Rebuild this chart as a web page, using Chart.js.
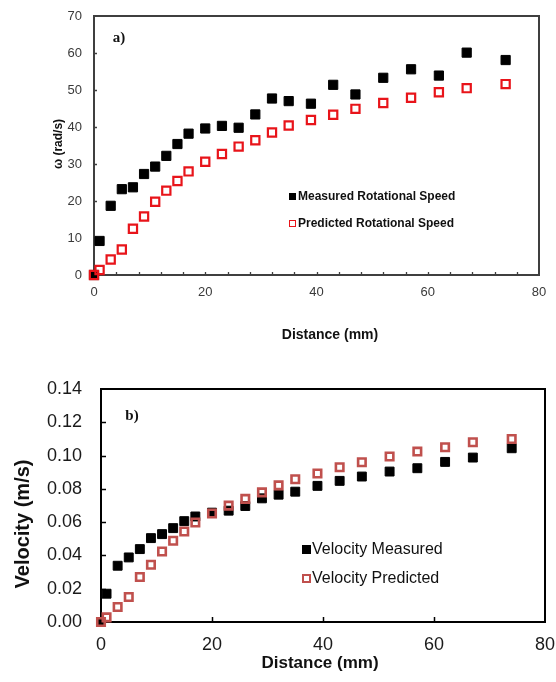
<!DOCTYPE html>
<html>
<head>
<meta charset="utf-8">
<script src="https://cdn.jsdelivr.net/npm/chart.js@4.4.1/dist/chart.umd.min.js"></script>
<style>
  body { margin: 0; background: #fff; }
  #wrap { position: relative; width: 556px; height: 682px; }
  canvas { position: absolute; left: 0; }
  #chartA { top: 0; }
  #chartB { top: 350px; }
  .legend { position: absolute; }
  .legend div { position: absolute; white-space: nowrap; display: flex; align-items: center; }
  .legend span.box { display: inline-block; box-sizing: border-box; }
</style>
</head>
<body>
<div id="wrap">
  <canvas id="chartA" width="556" height="350"></canvas>
  <canvas id="chartB" width="556" height="332"></canvas>
  <div class="legend" id="legendA"></div>
  <div class="legend" id="legendB"></div>
</div>
<script>
// datos
const distance = [0, 1, 3, 5, 7, 9, 11, 13, 15, 17, 20, 23, 26, 29, 32, 35, 39, 43, 47, 52, 57, 62, 67, 74];
const omegaMeasured = [0, 9.2, 18.7, 23.2, 23.7, 27.3, 29.3, 32.2, 35.4, 38.2, 39.6, 40.3, 39.8, 43.4, 47.7, 47.0, 46.3, 51.4, 48.8, 53.3, 55.6, 53.9, 60.1, 58.1];
const omegaPredicted = [0, 1.35, 4.2, 6.9, 12.5, 15.8, 19.8, 22.8, 25.4, 28.0, 30.6, 32.7, 34.7, 36.4, 38.5, 40.4, 41.9, 43.3, 44.9, 46.5, 47.9, 49.4, 50.5, 51.6];
const velMeasured = [0, 0.017, 0.0338, 0.0388, 0.0438, 0.0504, 0.0528, 0.0564, 0.0606, 0.0634, 0.0657, 0.0669, 0.0697, 0.0743, 0.0765, 0.0783, 0.0818, 0.0848, 0.0874, 0.0904, 0.0924, 0.0962, 0.0988, 0.1044];
const velPredicted = [0, 0.0028, 0.009, 0.015, 0.027, 0.0344, 0.0424, 0.0488, 0.0544, 0.0598, 0.0652, 0.0699, 0.0740, 0.0779, 0.0821, 0.0858, 0.0892, 0.093, 0.096, 0.0994, 0.1024, 0.105, 0.108, 0.110];

const xTicksA = [0, 20, 40, 60, 80];
const yTicksA = [0, 10, 20, 30, 40, 50, 60, 70];
const yTicksB = [0, 0.02, 0.04, 0.06, 0.08, 0.10, 0.12, 0.14];

const toPoints = ys => distance.map((d, i) => ({ x: d, y: ys[i] }));

// marco y marcas hacia dentro
const frameTicks = {
  id: 'frameTicks',
  beforeDatasetsDraw(chart, args, o) {
    const { ctx, chartArea: a, scales: { x, y } } = chart;
    ctx.save();
    ctx.strokeStyle = o.color;
    ctx.lineWidth = o.width;
    ctx.strokeRect(a.left, a.top, a.width, a.height);
    ctx.lineWidth = o.tickWidth;
    ctx.beginPath();
    for (let v = x.min + o.xStep; v < x.max; v += o.xStep) {
      const px = Math.round(x.getPixelForValue(v)) + 0.5;
      ctx.moveTo(px, a.bottom);
      ctx.lineTo(px, a.bottom - o.len);
    }
    for (let v = y.min + o.yStep; v < y.max - 1e-9; v += o.yStep) {
      const py = Math.round(y.getPixelForValue(v)) + 0.5;
      ctx.moveTo(a.left, py);
      ctx.lineTo(a.left + o.len, py);
    }
    ctx.stroke();
    ctx.restore();
  },
  afterDraw(chart, args, o) {
    const { ctx } = chart;
    ctx.save();
    ctx.fillStyle = o.textColor;
    ctx.textAlign = 'center';
    ctx.textBaseline = 'middle';
    (o.labels || []).forEach(l => {
      ctx.save();
      ctx.translate(l.x, l.y);
      if (l.rot) ctx.rotate(l.rot);
      ctx.font = l.font;
      ctx.fillText(l.text, 0, 0);
      ctx.restore();
    });
    ctx.restore();
  }
};

function makeChart(id, cfg) {
  return new Chart(document.getElementById(id), {
    type: 'scatter',
    data: { datasets: cfg.datasets },
    options: {
      responsive: false,
      animation: false,
      layout: { padding: { top: cfg.area.top, right: cfg.area.right, left: 0, bottom: 0 } },
      plugins: {
        legend: { display: false },
        tooltip: { enabled: false },
        frameTicks: cfg.frame
      },
      scales: {
        x: {
          type: 'linear', min: 0, max: 80,
          afterBuildTicks: s => { s.ticks = xTicksA.map(v => ({ value: v })); },
          afterFit: s => { s.height = cfg.area.xh; s.paddingLeft = 0; s.paddingRight = 0; },
          grid: { display: false, drawTicks: false },
          border: { display: false },
          ticks: { padding: cfg.xPad, color: cfg.tickColor, font: { family: 'Liberation Sans, Arial', size: cfg.tickSize }, maxRotation: 0 }
        },
        y: {
          type: 'linear', min: cfg.yTicks[0], max: cfg.yTicks[cfg.yTicks.length - 1],
          afterBuildTicks: s => { s.ticks = cfg.yTicks.map(v => ({ value: v })); },
          afterFit: s => { s.width = cfg.area.left; s.paddingTop = 0; s.paddingBottom = 0; },
          grid: { display: false, drawTicks: false },
          border: { display: false },
          ticks: { padding: cfg.yPad, color: cfg.tickColor, font: { family: 'Liberation Sans, Arial', size: cfg.tickSize }, callback: cfg.yFmt }
        }
      }
    },
    plugins: [frameTicks]
  });
}

const chartA = makeChart('chartA', {
  area: { top: 16, right: 17, left: 94, xh: 350 - 275 },
  tickSize: 13, tickColor: '#3a3a3a', xPad: 10, yPad: 12,
  yTicks: yTicksA,
  yFmt: v => v,
  datasets: [
    { label: 'Measured Rotational Speed', data: toPoints(omegaMeasured), pointStyle: 'rect', pointRadius: 6.5,
      backgroundColor: '#000', borderColor: '#000', borderWidth: 1, order: 1, clip: false },
    { label: 'Predicted Rotational Speed', data: toPoints(omegaPredicted), pointStyle: 'rect', pointRadius: 5.8,
      backgroundColor: 'rgba(0,0,0,0)', borderColor: '#e8141a', borderWidth: 2.2, order: 0, clip: false }
  ],
  frame: {
    color: '#3f3f3f', width: 2, tickWidth: 1.3, len: 3, xStep: 4, yStep: 10, textColor: '#111',
    labels: [
      { text: 'a)', x: 119, y: 38, font: 'bold 15px "Liberation Serif", "Times New Roman"' },
      { text: 'Distance (mm)', x: 330, y: 335, font: 'bold 14px "Liberation Sans", Arial' },
      { text: 'ω (rad/s)', x: 59, y: 144, rot: -Math.PI / 2, font: 'bold 12px "Liberation Sans", Arial' }
    ]
  }
});

const chartB = makeChart('chartB', {
  area: { top: 39, right: 11, left: 101, xh: 332 - 272 },
  tickSize: 18, tickColor: '#1a1a1a', xPad: 12, yPad: 19,
  yTicks: yTicksB,
  yFmt: v => v.toFixed(2),
  datasets: [
    { label: 'Velocity Measured', data: toPoints(velMeasured), pointStyle: 'rect', pointRadius: 6.3,
      backgroundColor: '#000', borderColor: '#000', borderWidth: 1, order: 1, clip: false },
    { label: 'Velocity Predicted', data: toPoints(velPredicted), pointStyle: 'rect', pointRadius: 5.3,
      backgroundColor: 'rgba(0,0,0,0)', borderColor: '#c0504d', borderWidth: 2.6, order: 0, clip: false }
  ],
  frame: {
    color: '#000', width: 2, tickWidth: 1.5, len: 5, xStep: 20, yStep: 0.02, textColor: '#111',
    labels: [
      { text: 'b)', x: 132, y: 66, font: 'bold 15px "Liberation Serif", "Times New Roman"' },
      { text: 'Distance (mm)', x: 320, y: 313, font: 'bold 17px "Liberation Sans", Arial' },
      { text: 'Velocity (m/s)', x: 23, y: 174, rot: -Math.PI / 2, font: 'bold 20px "Liberation Sans", Arial' }
    ]
  }
});

// leyenda en HTML a partir de los datasets
function buildLegend(el, chart, o) {
  chart.data.datasets.forEach((ds, i) => {
    const row = document.createElement('div');
    row.style.left = o.x + 'px';
    row.style.top = (o.y + i * o.gap - o.h / 2) + 'px';
    row.style.height = o.h + 'px';
    row.style.font = o.font;
    row.style.color = '#111';
    const box = document.createElement('span');
    box.className = 'box';
    box.style.width = o.box + 'px';
    box.style.height = o.box + 'px';
    box.style.marginRight = o.gapText + 'px';
    if (ds.backgroundColor === '#000') {
      box.style.background = '#000';
    } else {
      box.style.border = o.border + 'px solid ' + ds.borderColor;
      box.style.background = '#fff';
    }
    row.appendChild(box);
    row.appendChild(document.createTextNode(ds.label));
    el.appendChild(row);
  });
}

buildLegend(document.getElementById('legendA'), chartA,
  { x: 289, y: 196, gap: 27, h: 15, box: 7, border: 1.6, gapText: 2, font: 'bold 12px "Liberation Sans", Arial' });
buildLegend(document.getElementById('legendB'), chartB,
  { x: 302, y: 549, gap: 29, h: 19, box: 9, border: 2, gapText: 1, font: '16px "Liberation Sans", Arial' });
</script>
</body>
</html>
